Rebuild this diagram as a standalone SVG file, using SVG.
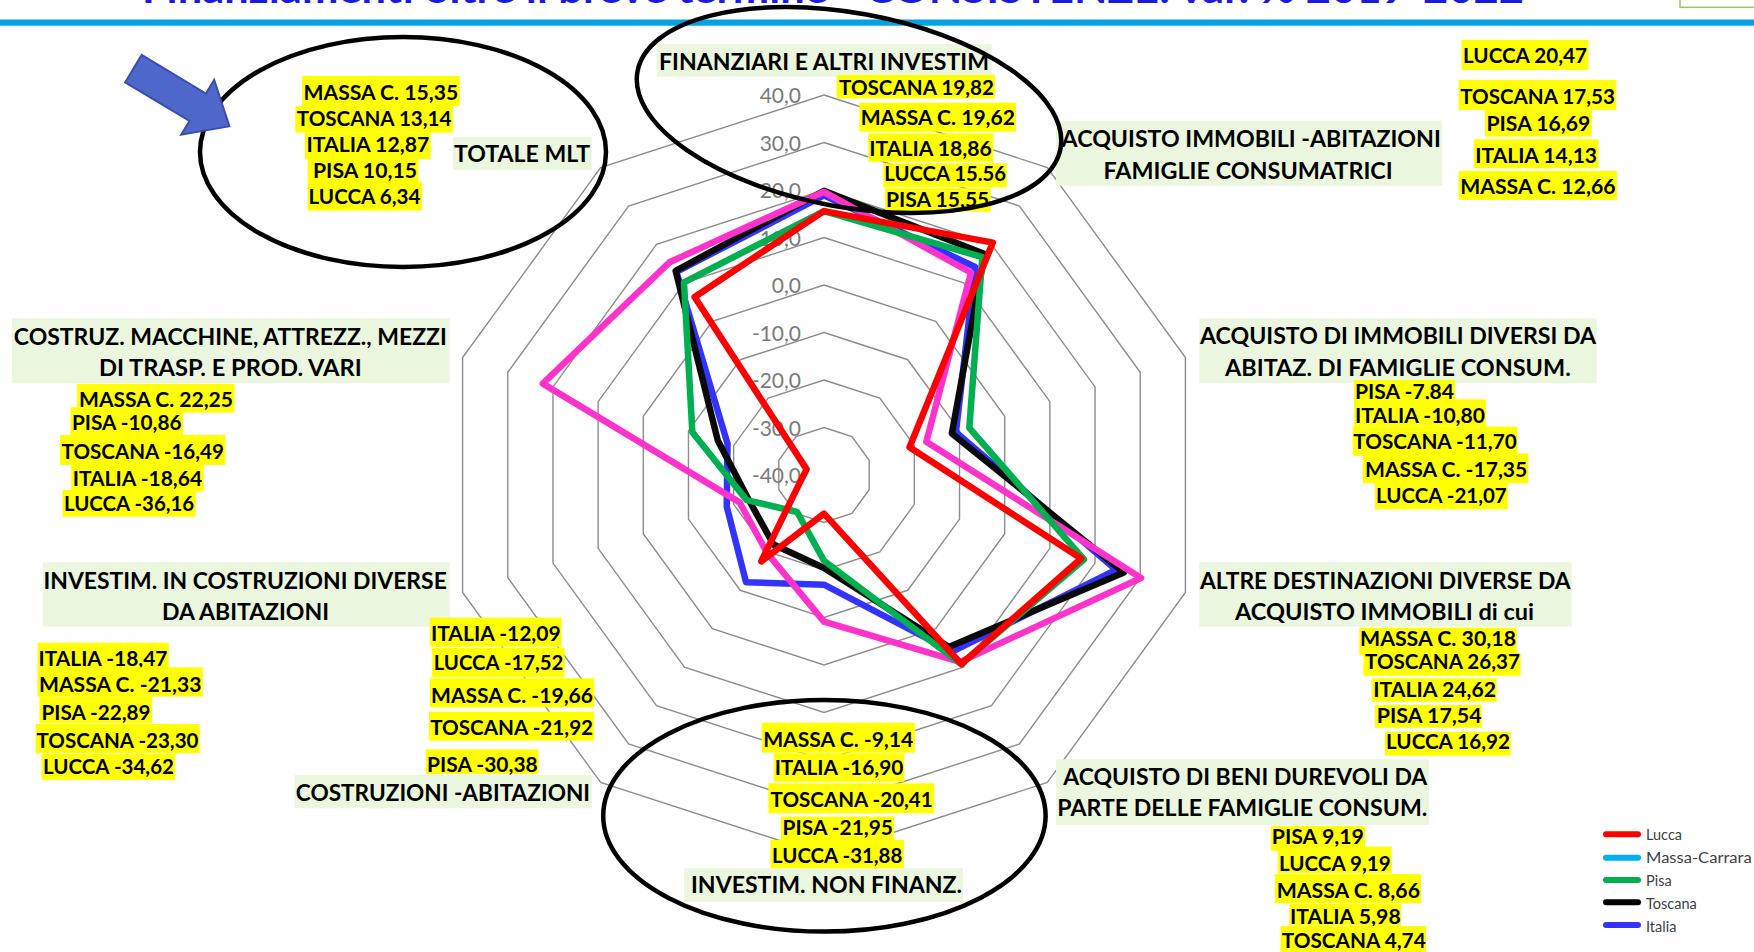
<svg xmlns="http://www.w3.org/2000/svg" width="1754" height="952" viewBox="0 0 1754 952">
<style>
.ring{fill:none;stroke:#8c8c8c;stroke-width:1.4}
.tick{font-family:Lato,"Liberation Sans",sans-serif;font-size:21px;fill:#7a7a7a;text-anchor:end}
.s{fill:none;stroke-width:6.5;stroke-linejoin:round;stroke-linecap:round}
.cat rect{fill:#EAF6DD}
.val rect{fill:#FFFF00}
.cat text,.val text{font-family:Lato,"Liberation Sans",sans-serif;font-weight:700;fill:#000}
.cat text{font-size:22px}
.val text{font-size:21px}
.ell{fill:none;stroke:#000;stroke-width:4.5}
.leg text{font-family:Lato,"Liberation Sans",sans-serif;font-size:14.5px;fill:#404040}
.leg line{stroke-width:6;stroke-linecap:round}
</style>
<rect x="0" y="0" width="1754" height="952" fill="#fff"/>
<g id="title">
<text x="142" y="2.7" textLength="1382" lengthAdjust="spacingAndGlyphs" font-family="Lato, 'Liberation Sans', sans-serif" font-weight="700" font-size="40" fill="#1a1ae6">Finanziamenti oltre il breve termine - CONSISTENZE: var. % 2019-2022</text>
<rect x="0" y="19.5" width="1754" height="6.2" fill="#06A1E0"/>
<rect x="1680" y="-2" width="80" height="9.3" fill="#fff" stroke="#92D050" stroke-width="1.5"/>
</g>
<g id="grid">
<polygon class="ring" points="824,427.5 851.92,436.57 869.18,460.32 869.18,489.68 851.92,513.43 824,522.5 796.08,513.43 778.82,489.68 778.82,460.32 796.08,436.57"/>
<polygon class="ring" points="824,380 879.84,398.14 914.35,445.64 914.35,504.36 879.84,551.86 824,570 768.16,551.86 733.65,504.36 733.65,445.64 768.16,398.14"/>
<polygon class="ring" points="824,332.5 907.76,359.72 959.53,430.96 959.53,519.04 907.76,590.28 824,617.5 740.24,590.28 688.47,519.04 688.47,430.96 740.24,359.72"/>
<polygon class="ring" points="824,285 935.68,321.29 1004.7,416.29 1004.7,533.71 935.68,628.71 824,665 712.32,628.71 643.3,533.71 643.3,416.29 712.32,321.29"/>
<polygon class="ring" points="824,237.5 963.6,282.86 1049.88,401.61 1049.88,548.39 963.6,667.14 824,712.5 684.4,667.14 598.12,548.39 598.12,401.61 684.4,282.86"/>
<polygon class="ring" points="824,190 991.52,244.43 1095.05,386.93 1095.05,563.07 991.52,705.57 824,760 656.48,705.57 552.95,563.07 552.95,386.93 656.48,244.43"/>
<polygon class="ring" points="824,142.5 1019.44,206 1140.23,372.25 1140.23,577.75 1019.44,744 824,807.5 628.56,744 507.77,577.75 507.77,372.25 628.56,206"/>
<polygon class="ring" points="824,95 1047.36,167.57 1185.4,357.57 1185.4,592.43 1047.36,782.43 824,855 600.64,782.43 462.6,592.43 462.6,357.57 600.64,167.57"/>
<text class="tick" x="801" y="103">40,0</text>
<text class="tick" x="801" y="150.5">30,0</text>
<text class="tick" x="801" y="198">20,0</text>
<text class="tick" x="801" y="245.5">10,0</text>
<text class="tick" x="801" y="293">0,0</text>
<text class="tick" x="801" y="340.5">-10,0</text>
<text class="tick" x="801" y="388">-20,0</text>
<text class="tick" x="801" y="435.5">-30,0</text>
<text class="tick" x="801" y="483">-40,0</text>
</g>
<g id="connectors">
<polygon id="s-italia" class="s" stroke="#3333FF" points="824,195.41 975.13,266.99 955.91,432.14 1115.93,569.85 952.38,651.7 824,584.73 746.08,582.25 726.74,506.6 727.51,443.65 676.39,271.83"/>
<polygon id="s-toscana" class="s" stroke="#0a0a0a" points="824,190.85 984.62,253.92 951.85,433.46 1123.83,572.42 948.91,646.93 824,568.05 773.52,544.48 748.56,499.51 717.79,440.49 675.63,270.79"/>
<polygon id="s-massa" class="s" stroke="#FF33CC" points="824,191.8 971.03,272.63 926.32,441.75 1141.04,578.01 959.86,661.99 824,621.59 767.21,553.17 739.66,502.4 542.78,383.63 669.46,262.3"/>
<polygon id="s-pisa" class="s" stroke="#00B050" points="824,211.14 982.28,257.15 969.28,427.79 1083.94,559.46 961.34,664.03 824,560.74 797.14,511.97 746.71,500.11 692.36,432.23 683.98,282.28"/>
<polygon id="s-lucca" class="s" stroke="#FF0000" points="824,211.09 992.83,242.63 909.52,447.21 1081.14,558.55 961.34,664.03 824,513.57 761.24,561.39 799.69,482.9 806.65,469.36 694.62,296.92"/>
</g>
<g id="cat-totale" class="cat"><rect x="453" y="136.7" width="138.7" height="33.3"/><text x="454" y="162.3" textLength="136" lengthAdjust="spacingAndGlyphs">TOTALE MLT</text></g>
<g id="cat-finanziari" class="cat"><rect x="657" y="44" width="334.7" height="32.7"/><text x="659" y="69.5" textLength="330" lengthAdjust="spacingAndGlyphs">FINANZIARI E ALTRI INVESTIM</text></g>
<g id="cat-abitazioni" class="cat"><rect x="1056" y="120.7" width="386" height="65"/><text x="1061.6" y="146.7" textLength="379.2" lengthAdjust="spacingAndGlyphs">ACQUISTO IMMOBILI -ABITAZIONI</text><text x="1103.5" y="179.3" textLength="289.2" lengthAdjust="spacingAndGlyphs">FAMIGLIE CONSUMATRICI</text></g>
<g id="cat-immdiversi" class="cat"><rect x="1199.3" y="318.3" width="397.4" height="65"/><text x="1200" y="344.3" textLength="396" lengthAdjust="spacingAndGlyphs">ACQUISTO DI IMMOBILI DIVERSI DA</text><text x="1225" y="376" textLength="345.7" lengthAdjust="spacingAndGlyphs">ABITAZ. DI FAMIGLIE CONSUM.</text></g>
<g id="cat-altre" class="cat"><rect x="1199.3" y="562.3" width="372.4" height="64.4"/><text x="1200" y="589.3" textLength="370.7" lengthAdjust="spacingAndGlyphs">ALTRE DESTINAZIONI DIVERSE DA</text><text x="1235" y="620" textLength="299" lengthAdjust="spacingAndGlyphs">ACQUISTO IMMOBILI di cui</text></g>
<g id="cat-beni" class="cat"><rect x="1056" y="759.3" width="373" height="65.7"/><text x="1063.3" y="785" textLength="364" lengthAdjust="spacingAndGlyphs">ACQUISTO DI BENI DUREVOLI DA</text><text x="1057.3" y="815.7" textLength="370" lengthAdjust="spacingAndGlyphs">PARTE DELLE FAMIGLIE CONSUM.</text></g>
<g id="cat-nonfinanz" class="cat"><rect x="684.2" y="868.3" width="278.8" height="33.4"/><text x="691" y="893.3" textLength="271" lengthAdjust="spacingAndGlyphs">INVESTIM. NON FINANZ.</text></g>
<g id="cat-costrabit" class="cat"><rect x="294.6" y="775" width="297.3" height="33.3"/><text x="295.8" y="800.7" textLength="294.2" lengthAdjust="spacingAndGlyphs">COSTRUZIONI -ABITAZIONI</text></g>
<g id="cat-costrdiverse" class="cat"><rect x="42.7" y="562.3" width="406.9" height="64.4"/><text x="43.5" y="589.3" textLength="403.3" lengthAdjust="spacingAndGlyphs">INVESTIM. IN COSTRUZIONI DIVERSE</text><text x="162" y="620" textLength="167" lengthAdjust="spacingAndGlyphs">DA ABITAZIONI</text></g>
<g id="cat-macchine" class="cat"><rect x="11.9" y="318.3" width="437.7" height="65"/><text x="13.8" y="345" textLength="433" lengthAdjust="spacingAndGlyphs">COSTRUZ. MACCHINE, ATTREZZ., MEZZI</text><text x="98.9" y="376" textLength="262.9" lengthAdjust="spacingAndGlyphs">DI TRASP. E PROD. VARI</text></g>
<g id="vals-totale" class="val">
<g><rect x="302" y="76" width="157.7" height="30"/><text x="303.5" y="100" textLength="154.7" lengthAdjust="spacingAndGlyphs">MASSA C. 15,35</text></g>
<g><rect x="295.3" y="106" width="157.7" height="26.7"/><text x="296.8" y="126" textLength="154.7" lengthAdjust="spacingAndGlyphs">TOSCANA 13,14</text></g>
<g><rect x="305" y="132.7" width="125.7" height="26.6"/><text x="306.5" y="152" textLength="122.7" lengthAdjust="spacingAndGlyphs">ITALIA 12,87</text></g>
<g><rect x="307.6" y="159" width="110.8" height="23.7"/><text x="313" y="178.3" textLength="104" lengthAdjust="spacingAndGlyphs">PISA 10,15</text></g>
<g><rect x="307.6" y="181.7" width="114.4" height="29"/><text x="308.5" y="204" textLength="112" lengthAdjust="spacingAndGlyphs">LUCCA 6,34</text></g>
</g>
<g id="vals-finanziari" class="val">
<g><rect x="836.7" y="75" width="158.3" height="23.5"/><text x="839" y="94.5" textLength="155" lengthAdjust="spacingAndGlyphs">TOSCANA 19,82</text></g>
<g><rect x="859.3" y="102.7" width="156.7" height="29"/><text x="860.7" y="125" textLength="154.3" lengthAdjust="spacingAndGlyphs">MASSA C. 19,62</text></g>
<g><rect x="868.3" y="133.3" width="125" height="28.4"/><text x="869.3" y="155.7" textLength="122.4" lengthAdjust="spacingAndGlyphs">ITALIA 18,86</text></g>
<g><rect x="883.3" y="163.3" width="123.4" height="24"/><text x="884.3" y="181" textLength="121.7" lengthAdjust="spacingAndGlyphs">LUCCA 15.56</text></g>
<g><rect x="885" y="188.3" width="105.7" height="23.4"/><text x="886" y="207" textLength="103.3" lengthAdjust="spacingAndGlyphs">PISA 15,55</text></g>
</g>
<g id="vals-abitazioni" class="val">
<g><rect x="1461.5" y="40" width="126.9" height="30"/><text x="1463" y="63.3" textLength="124" lengthAdjust="spacingAndGlyphs">LUCCA 20,47</text></g>
<g><rect x="1458.7" y="80" width="157.7" height="30"/><text x="1460.2" y="104.3" textLength="154.7" lengthAdjust="spacingAndGlyphs">TOSCANA 17,53</text></g>
<g><rect x="1485" y="110" width="106.8" height="26.7"/><text x="1486.5" y="131" textLength="103.8" lengthAdjust="spacingAndGlyphs">PISA 16,69</text></g>
<g><rect x="1473.8" y="139.3" width="124.7" height="29"/><text x="1475.3" y="163.3" textLength="121.7" lengthAdjust="spacingAndGlyphs">ITALIA 14,13</text></g>
<g><rect x="1458.7" y="171" width="158.3" height="29"/><text x="1460.2" y="194.3" textLength="155.3" lengthAdjust="spacingAndGlyphs">MASSA C. 12,66</text></g>
</g>
<g id="vals-macchine" class="val">
<g><rect x="77.1" y="384" width="157.4" height="28.7"/><text x="79" y="406.7" textLength="154" lengthAdjust="spacingAndGlyphs">MASSA C. 22,25</text></g>
<g><rect x="70.4" y="407.3" width="112.6" height="27.7"/><text x="71.9" y="430" textLength="109.6" lengthAdjust="spacingAndGlyphs">PISA -10,86</text></g>
<g><rect x="60.1" y="435" width="165.3" height="30"/><text x="61.6" y="459" textLength="162.3" lengthAdjust="spacingAndGlyphs">TOSCANA -16,49</text></g>
<g><rect x="71.2" y="464" width="132.4" height="27.7"/><text x="72.7" y="485.7" textLength="129.4" lengthAdjust="spacingAndGlyphs">ITALIA -18,64</text></g>
<g><rect x="62.5" y="490" width="133.2" height="26.7"/><text x="64" y="511" textLength="130.2" lengthAdjust="spacingAndGlyphs">LUCCA -36,16</text></g>
</g>
<g id="vals-costrdiverse" class="val">
<g><rect x="37.6" y="642.7" width="131.2" height="25.3"/><text x="38.5" y="666" textLength="129" lengthAdjust="spacingAndGlyphs">ITALIA -18,47</text></g>
<g><rect x="37.6" y="667.3" width="165.2" height="29.4"/><text x="39" y="691.7" textLength="162.5" lengthAdjust="spacingAndGlyphs">MASSA C. -21,33</text></g>
<g><rect x="39.5" y="696.7" width="112.7" height="26.6"/><text x="41.5" y="720" textLength="109" lengthAdjust="spacingAndGlyphs">PISA -22,89</text></g>
<g><rect x="35.6" y="724" width="164.1" height="29.3"/><text x="36.5" y="747.7" textLength="162" lengthAdjust="spacingAndGlyphs">TOSCANA -23,30</text></g>
<g><rect x="41.5" y="754" width="133.7" height="26"/><text x="43" y="774" textLength="131" lengthAdjust="spacingAndGlyphs">LUCCA -34,62</text></g>
</g>
<g id="vals-costrabit" class="val">
<g><rect x="429.8" y="617.7" width="131.7" height="29"/><text x="431" y="641" textLength="129.7" lengthAdjust="spacingAndGlyphs">ITALIA -12,09</text></g>
<g><rect x="432.2" y="647.7" width="132.4" height="29.6"/><text x="433.7" y="670" textLength="129.7" lengthAdjust="spacingAndGlyphs">LUCCA -17,52</text></g>
<g><rect x="429.8" y="678.3" width="164.5" height="29"/><text x="431" y="702.7" textLength="162" lengthAdjust="spacingAndGlyphs">MASSA C. -19,66</text></g>
<g><rect x="429" y="711.7" width="164.9" height="29"/><text x="430.2" y="735" textLength="162.9" lengthAdjust="spacingAndGlyphs">TOSCANA -21,92</text></g>
<g><rect x="425.8" y="749.3" width="112.7" height="24.7"/><text x="427" y="772.3" textLength="110.7" lengthAdjust="spacingAndGlyphs">PISA -30,38</text></g>
</g>
<g id="vals-immdiversi" class="val">
<g><rect x="1354" y="380" width="101" height="19.3"/><text x="1355" y="398.5" textLength="99" lengthAdjust="spacingAndGlyphs">PISA -7,84</text></g>
<g><rect x="1354" y="399.3" width="131.7" height="27.4"/><text x="1355" y="423.3" textLength="130" lengthAdjust="spacingAndGlyphs">ITALIA -10,80</text></g>
<g><rect x="1352.7" y="426.7" width="164.6" height="29"/><text x="1353.3" y="449.3" textLength="163.4" lengthAdjust="spacingAndGlyphs">TOSCANA -11,70</text></g>
<g><rect x="1362.7" y="453.3" width="165.6" height="30"/><text x="1365" y="476.7" textLength="162.3" lengthAdjust="spacingAndGlyphs">MASSA C. -17,35</text></g>
<g><rect x="1375" y="482.7" width="132.7" height="26.6"/><text x="1376" y="503.3" textLength="130.7" lengthAdjust="spacingAndGlyphs">LUCCA -21,07</text></g>
</g>
<g id="vals-altre" class="val">
<g><rect x="1359.3" y="627.7" width="157.4" height="27.3"/><text x="1360" y="645.7" textLength="156" lengthAdjust="spacingAndGlyphs">MASSA C. 30,18</text></g>
<g><rect x="1363.3" y="653.3" width="157.4" height="22.4"/><text x="1365" y="669.3" textLength="155" lengthAdjust="spacingAndGlyphs">TOSCANA 26,37</text></g>
<g><rect x="1371.7" y="678.3" width="125" height="23.4"/><text x="1373.3" y="696.7" textLength="122.7" lengthAdjust="spacingAndGlyphs">ITALIA 24,62</text></g>
<g><rect x="1375" y="705" width="106.7" height="22.7"/><text x="1376.7" y="723.3" textLength="105" lengthAdjust="spacingAndGlyphs">PISA 17,54</text></g>
<g><rect x="1385" y="731.7" width="125.7" height="24"/><text x="1386" y="749.3" textLength="124" lengthAdjust="spacingAndGlyphs">LUCCA 16,92</text></g>
</g>
<g id="vals-beni" class="val">
<g><rect x="1271" y="826" width="94" height="24.7"/><text x="1271.7" y="844.3" textLength="92.3" lengthAdjust="spacingAndGlyphs">PISA 9,19</text></g>
<g><rect x="1277.7" y="846.7" width="114" height="26.6"/><text x="1279" y="870.7" textLength="111.7" lengthAdjust="spacingAndGlyphs">LUCCA 9,19</text></g>
<g><rect x="1275" y="874" width="146" height="29.3"/><text x="1276.7" y="897.7" textLength="143.3" lengthAdjust="spacingAndGlyphs">MASSA C. 8,66</text></g>
<g><rect x="1289.3" y="904" width="111.7" height="21.5"/><text x="1290" y="924" textLength="110.7" lengthAdjust="spacingAndGlyphs">ITALIA 5,98</text></g>
<g><rect x="1280.7" y="926" width="145.3" height="26"/><text x="1281.7" y="947.7" textLength="144" lengthAdjust="spacingAndGlyphs">TOSCANA 4,74</text></g>
</g>
<g id="vals-nonfinanz" class="val">
<g><rect x="761.7" y="722.7" width="153.2" height="30"/><text x="763.2" y="746.7" textLength="150.1" lengthAdjust="spacingAndGlyphs">MASSA C. -9,14</text></g>
<g><rect x="773.7" y="753.3" width="130.7" height="28.4"/><text x="774.7" y="775" textLength="128.7" lengthAdjust="spacingAndGlyphs">ITALIA -16,90</text></g>
<g><rect x="768.4" y="783.3" width="165.8" height="30"/><text x="770.6" y="806.7" textLength="162.1" lengthAdjust="spacingAndGlyphs">TOSCANA -20,41</text></g>
<g><rect x="781" y="816.7" width="113" height="23.3"/><text x="782.6" y="835" textLength="110.4" lengthAdjust="spacingAndGlyphs">PISA -21,95</text></g>
<g><rect x="770.5" y="840" width="133.5" height="28.3"/><text x="772.1" y="863.3" textLength="130.2" lengthAdjust="spacingAndGlyphs">LUCCA -31,88</text></g>
</g>
<g id="highlights">
<ellipse id="ell-totale" class="ell" cx="403" cy="152" rx="203" ry="115"/>
<ellipse id="ell-finanziari" class="ell" cx="849" cy="110" rx="215" ry="97" transform="rotate(10.3 849 110)"/>
<ellipse id="ell-nonfinanz" class="ell" cx="824.4" cy="815.8" rx="221.2" ry="115.8"/>
</g>
<g id="arrow">
<path transform="translate(133.4 68.6) rotate(31)" d="M0,-16 L75,-16 L75,-32 L112,0 L75,32 L75,16 L0,16 Z" fill="#4F67CB" stroke="#3A50A8" stroke-width="2" stroke-linejoin="miter"/>
</g>
<g id="legend" class="leg">
<line x1="1606" y1="834.3" x2="1638" y2="834.3" stroke="#FF0000"/><text x="1646" y="840">Lucca</text>
<line x1="1606" y1="857.7" x2="1638" y2="857.7" stroke="#00B0F0"/><text x="1646" y="863.3" textLength="105.7" lengthAdjust="spacingAndGlyphs">Massa-Carrara</text>
<line x1="1606" y1="880" x2="1638" y2="880" stroke="#00B050"/><text x="1646" y="886">Pisa</text>
<line x1="1606" y1="902.3" x2="1638" y2="902.3" stroke="#000"/><text x="1646" y="909">Toscana</text>
<line x1="1606" y1="925" x2="1638" y2="925" stroke="#3333FF"/><text x="1646" y="931.7">Italia</text>
</g>
</svg>
